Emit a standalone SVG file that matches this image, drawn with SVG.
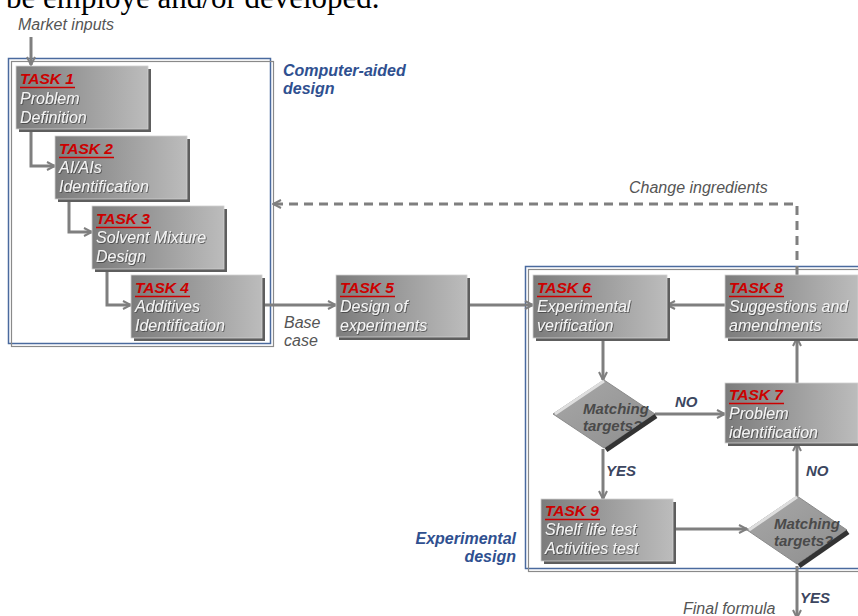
<svg xmlns="http://www.w3.org/2000/svg" width="858" height="616" viewBox="0 0 858 616">
<defs>
<linearGradient id="boxg" x1="0" y1="0" x2="1" y2="0">
<stop offset="0" stop-color="#7c7c7c"/>
<stop offset="1" stop-color="#bcbcbc"/>
</linearGradient>
<linearGradient id="diag" x1="0" y1="0" x2="1" y2="1">
<stop offset="0" stop-color="#a8a8a8"/>
<stop offset="1" stop-color="#8e8e8e"/>
</linearGradient>
<filter id="ts" x="-10%" y="-30%" width="120%" height="160%">
<feDropShadow dx="0.8" dy="0.8" stdDeviation="0.4" flood-color="#333" flood-opacity="0.8"/>
</filter>
<marker id="ar" viewBox="0 0 10 10" refX="9" refY="5" markerWidth="10" markerHeight="10" markerUnits="userSpaceOnUse" orient="auto">
<path d="M1,1 L9,5 L1,9" fill="none" stroke="#7f7f7f" stroke-width="2"/>
</marker>
</defs>
<style>
.sh{fill:#5e5e5e}
.bx{fill:url(#boxg);stroke:#d0d0d0;stroke-width:0.8}
.tk{font-family:"Liberation Sans",Arial,sans-serif;font-size:15.5px;font-weight:bold;font-style:italic;fill:#cc0000}
.ul{stroke:#cc0000;stroke-width:1.5}
.bt{font-family:"Liberation Sans",Arial,sans-serif;font-size:16px;font-style:italic;fill:#f4f4f4;filter:url(#ts)}
.cn{fill:none;stroke:#7f7f7f;stroke-width:3}
.lbl{font-family:"Liberation Sans",Arial,sans-serif;font-size:16px;font-style:italic;fill:#555}
.yn{font-family:"Liberation Sans",Arial,sans-serif;font-size:15px;font-weight:bold;font-style:italic;fill:#3c4660}
.grp{font-family:"Liberation Sans",Arial,sans-serif;font-size:16px;font-weight:bold;font-style:italic;fill:#2f5090}
.dm{fill:url(#diag);stroke:#8a8a8a;stroke-width:1}
.dt{font-family:"Liberation Sans",Arial,sans-serif;font-size:15px;font-weight:bold;font-style:italic;fill:#4a4a4a}
.hl{fill:none;stroke:#dedede;stroke-width:3}
.dk{fill:none;stroke:#333;stroke-width:5}
.fb{fill:none;stroke:#4a6a9e;stroke-width:1.5}
.fg{fill:none;stroke:#8a8a8a;stroke-width:1.2}
</style>

<text x="6" y="8" font-family="'Liberation Serif','Times New Roman',serif" font-size="31" fill="#000">be employe and/or developed.</text>

<g id="frame-cad">
<rect class="fb" x="8.5" y="58.5" width="262" height="285"/>
<rect class="fg" x="11.5" y="61.5" width="262" height="285"/>
<text class="grp" x="283" y="76">Computer-aided</text>
<text class="grp" x="283" y="94">design</text>
</g>
<g id="frame-exp">
<rect class="fb" x="525.5" y="266.5" width="345" height="302"/>
<rect class="fg" x="528.5" y="269.5" width="345" height="302"/>
<text class="grp" x="516" y="544" text-anchor="end">Experimental</text>
<text class="grp" x="516" y="562" text-anchor="end">design</text>
</g>

<g id="connectors">
<path class="cn" d="M31,37 V65" marker-end="url(#ar)"/>
<path class="cn" d="M31,131 V166 H55" marker-end="url(#ar)"/>
<path class="cn" d="M69,201 V232 H92" marker-end="url(#ar)"/>
<path class="cn" d="M107,271 V305 H131" marker-end="url(#ar)"/>
<path class="cn" d="M262,305 H336" marker-end="url(#ar)"/>
<path class="cn" d="M468,305 H533" marker-end="url(#ar)"/>
<path class="cn" d="M725,305 H667" marker-end="url(#ar)"/>
<path class="cn" d="M603,339 V380" marker-end="url(#ar)"/>
<path class="cn" d="M655,414 H725" marker-end="url(#ar)"/>
<path class="cn" d="M797,383 V338" marker-end="url(#ar)"/>
<path class="cn" d="M603,449 V499" marker-end="url(#ar)"/>
<path class="cn" d="M674,529 H747" marker-end="url(#ar)"/>
<path class="cn" d="M797,496 V443" marker-end="url(#ar)"/>
<path class="cn" d="M797,566 V618" marker-end="url(#ar)"/>
<path class="cn" d="M797,275 V204 H273" stroke-dasharray="9,6" marker-end="url(#ar)"/>
<text class="lbl" x="18" y="30" fill="#666">Market inputs</text>
<text class="lbl" x="284" y="328">Base</text>
<text class="lbl" x="284" y="346">case</text>
<text class="lbl" x="629" y="193">Change ingredients</text>
<text class="lbl" x="683" y="614" fill="#444">Final formula</text>
<text class="yn" x="675" y="407">NO</text>
<text class="yn" x="606" y="476">YES</text>
<text class="yn" x="806" y="476">NO</text>
<text class="yn" x="800" y="603">YES</text>
</g>

<g id="task1">
<rect class="sh" x="19" y="69" width="132" height="63"/>
<rect class="bx" x="16" y="66" width="132" height="63"/>
<text class="tk" x="20" y="84">TASK 1</text><line class="ul" x1="20" y1="87.5" x2="75" y2="87.5"/>
<text class="bt" x="20" y="104">Problem</text>
<text class="bt" x="20" y="123">Definition</text>
</g>
<g id="task2">
<rect class="sh" x="58" y="139" width="132" height="63"/>
<rect class="bx" x="55" y="136" width="132" height="63"/>
<text class="tk" x="59" y="154">TASK 2</text><line class="ul" x1="59" y1="157.5" x2="114" y2="157.5"/>
<text class="bt" x="59" y="173">AI/AIs</text>
<text class="bt" x="59" y="192">Identification</text>
</g>
<g id="task3">
<rect class="sh" x="95" y="209" width="132" height="63"/>
<rect class="bx" x="92" y="206" width="132" height="63"/>
<text class="tk" x="96" y="224">TASK 3</text><line class="ul" x1="96" y1="227.5" x2="151" y2="227.5"/>
<text class="bt" x="96" y="243">Solvent Mixture</text>
<text class="bt" x="96" y="262">Design</text>
</g>
<g id="task4">
<rect class="sh" x="134" y="278" width="131" height="63"/>
<rect class="bx" x="131" y="275" width="131" height="63"/>
<text class="tk" x="135" y="293">TASK 4</text><line class="ul" x1="135" y1="296.5" x2="190" y2="296.5"/>
<text class="bt" x="135" y="312">Additives</text>
<text class="bt" x="135" y="331">Identification</text>
</g>
<g id="task5">
<rect class="sh" x="339" y="278" width="131" height="62"/>
<rect class="bx" x="336" y="275" width="131" height="62"/>
<text class="tk" x="340" y="293">TASK 5</text><line class="ul" x1="340" y1="296.5" x2="395" y2="296.5"/>
<text class="bt" x="340" y="312">Design of</text>
<text class="bt" x="340" y="331">experiments</text>
</g>
<g id="task6">
<rect class="sh" x="536" y="278" width="134" height="63"/>
<rect class="bx" x="533" y="275" width="134" height="63"/>
<text class="tk" x="537" y="293">TASK 6</text><line class="ul" x1="537" y1="296.5" x2="592" y2="296.5"/>
<text class="bt" x="537" y="312">Experimental</text>
<text class="bt" x="537" y="331">verification</text>
</g>
<g id="task8">
<rect class="sh" x="728" y="278" width="133" height="63"/>
<rect class="bx" x="725" y="275" width="133" height="63"/>
<text class="tk" x="729" y="293">TASK 8</text><line class="ul" x1="729" y1="296.5" x2="784" y2="296.5"/>
<text class="bt" x="729" y="312">Suggestions and</text>
<text class="bt" x="729" y="331">amendments</text>
</g>
<g id="task7">
<rect class="sh" x="728" y="386" width="133" height="60"/>
<rect class="bx" x="725" y="383" width="133" height="60"/>
<text class="tk" x="729" y="400">TASK 7</text><line class="ul" x1="729" y1="403.5" x2="784" y2="403.5"/>
<text class="bt" x="729" y="419">Problem</text>
<text class="bt" x="729" y="438">identification</text>
</g>
<g id="task9">
<rect class="sh" x="544" y="502" width="132" height="62"/>
<rect class="bx" x="541" y="499" width="132" height="62"/>
<text class="tk" x="545" y="516">TASK 9</text><line class="ul" x1="545" y1="519.5" x2="600" y2="519.5"/>
<text class="bt" x="545" y="535">Shelf life test</text>
<text class="bt" x="545" y="554">Activities test</text>
</g>
<g id="decision1">
<polygon class="dm" points="604,380 655,414 604,448 553,414"/>
<polyline class="hl" points="555,414 604,381"/>
<text class="dt" x="583" y="414">Matching</text>
<text class="dt" x="583" y="431">targets?</text>
<polyline class="dk" points="656,416 606,450"/>
</g>
<g id="decision2">
<polygon class="dm" points="797,496 847,530 797,564 747,530"/>
<polyline class="hl" points="749,530 797,497"/>
<text class="dt" x="774" y="529">Matching</text>
<text class="dt" x="774" y="546">targets?</text>
<polyline class="dk" points="848,532 799,566"/>
</g>
</svg>
